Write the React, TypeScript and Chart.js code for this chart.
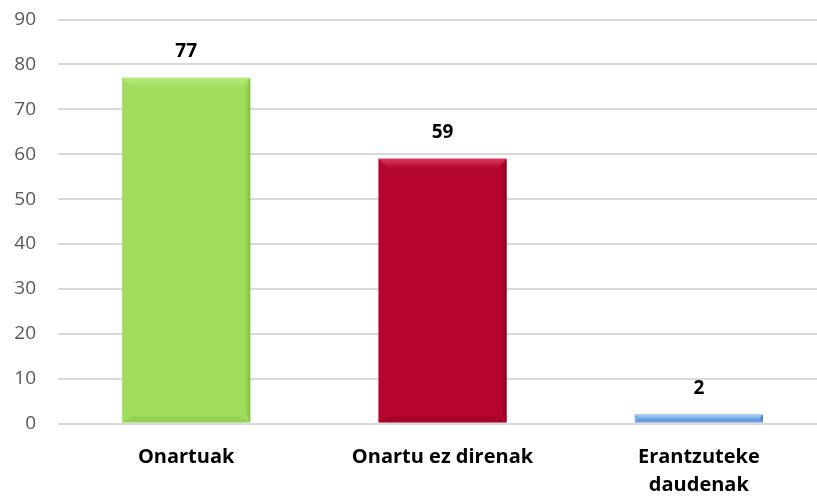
import React, { useEffect, useRef } from "react";
import { Chart, registerables } from "chart.js";

Chart.register(...registerables);

const categories: (string | string[])[] = ["Onartuak", "Onartu ez direnak", ["Erantzuteke", "daudenak"]];
const values: number[] = [77, 59, 2];
const yTicks = { min: 0, max: 90, step: 10 };

const baseColors = ["#a0dd5c", "#b5042d", "#78aeea"];
const lightColors = ["#b8ea80", "#dc3a5a", "#a6cdf6"];
const darkColors = ["#6fae33", "#7a001c", "#3a6db5"];

const bevelPlugin = {
  id: "bevel",
  afterDatasetsDraw(chart: any) {
    const ctx = chart.ctx;
    const meta = chart.getDatasetMeta(0);
    meta.data.forEach((bar: any, i: number) => {
      const p = bar.getProps(["x", "y", "base", "width"], true);
      const left = p.x - p.width / 2;
      const right = p.x + p.width / 2;
      const top = Math.min(p.y, p.base);
      const bottom = Math.max(p.y, p.base);
      const h = bottom - top;
      const b = Math.min(10, h / 2);
      ctx.save();
      const g = ctx.createLinearGradient(0, top, 0, top + b);
      g.addColorStop(0, lightColors[i]);
      g.addColorStop(1, baseColors[i]);
      ctx.fillStyle = g;
      ctx.beginPath();
      ctx.moveTo(left, top);
      ctx.lineTo(right, top);
      ctx.lineTo(right - b, top + b);
      ctx.lineTo(left + b, top + b);
      ctx.closePath();
      ctx.fill();
      const gr = ctx.createLinearGradient(right - 5, 0, right, 0);
      gr.addColorStop(0, baseColors[i]);
      gr.addColorStop(1, darkColors[i]);
      ctx.fillStyle = gr;
      ctx.globalAlpha = 0.7;
      ctx.beginPath();
      ctx.moveTo(right, top);
      ctx.lineTo(right, bottom);
      ctx.lineTo(right - Math.min(5, b), bottom - b);
      ctx.lineTo(right - Math.min(5, b), top + b);
      ctx.closePath();
      ctx.fill();
      ctx.fillStyle = darkColors[i];
      ctx.globalAlpha = 0.25;
      ctx.beginPath();
      ctx.moveTo(left, bottom);
      ctx.lineTo(right, bottom);
      ctx.lineTo(right - b, bottom - Math.min(6, b));
      ctx.lineTo(left + b, bottom - Math.min(6, b));
      ctx.closePath();
      ctx.fill();
      ctx.restore();
    });
  },
};

const labelPlugin = {
  id: "valueLabels",
  afterDatasetsDraw(chart: any) {
    const ctx = chart.ctx;
    const meta = chart.getDatasetMeta(0);
    ctx.save();
    ctx.font = "bold 19px 'Open Sans'";
    ctx.fillStyle = "#000000";
    ctx.textAlign = "center";
    ctx.textBaseline = "middle";
    meta.data.forEach((bar: any, i: number) => {
      ctx.fillText(String(values[i]), bar.x, bar.y - 26);
    });
    ctx.restore();
  },
};

export default function App() {
  const ref = useRef<HTMLCanvasElement | null>(null);
  useEffect(() => {
    if (!ref.current) return;
    const chart = new Chart(ref.current, {
      type: "bar",
      data: {
        labels: categories,
        datasets: [
          {
            data: values,
            backgroundColor: baseColors,
            borderWidth: 0,
            categoryPercentage: 1,
            barPercentage: 0.5,
          },
        ],
      },
      options: {
        animation: false,
        responsive: false,
        layout: { padding: { top: 19.5, right: 3, left: 0, bottom: 0 } },
        plugins: { legend: { display: false }, tooltip: { enabled: false } },
        scales: {
          x: {
            grid: { display: false, drawTicks: false },
            border: { display: false },
            ticks: {
              color: "#000000",
              font: { family: "'Open Sans'", size: 20, weight: "bold", lineHeight: 1.4 },
              padding: 20,
              maxRotation: 0,
            },
            afterFit(scale: any) {
              scale.height = 73.4;
              scale.paddingLeft = 0;
              scale.paddingRight = 0;
            },
          },
          y: {
            min: yTicks.min,
            max: yTicks.max,
            grid: { color: "#d9d9d9", lineWidth: 2, drawTicks: false },
            border: { display: false },
            ticks: {
              stepSize: yTicks.step,
              color: "#595959",
              font: { family: "'Open Sans'", size: 19 },
              padding: 22,
            },
            afterFit(scale: any) {
              scale.width = 58;
              scale.paddingTop = 0;
              scale.paddingBottom = 0;
            },
          },
        },
      },
      plugins: [bevelPlugin, labelPlugin],
    });
    return () => chart.destroy();
  }, []);
  return (
    <div style={{ position: "fixed", left: 0, top: 0, width: 817, height: 497, overflow: "hidden", background: "#fff" }}>
      <canvas ref={ref} width={830} height={497} style={{ display: "block" }} />
    </div>
  );
}
